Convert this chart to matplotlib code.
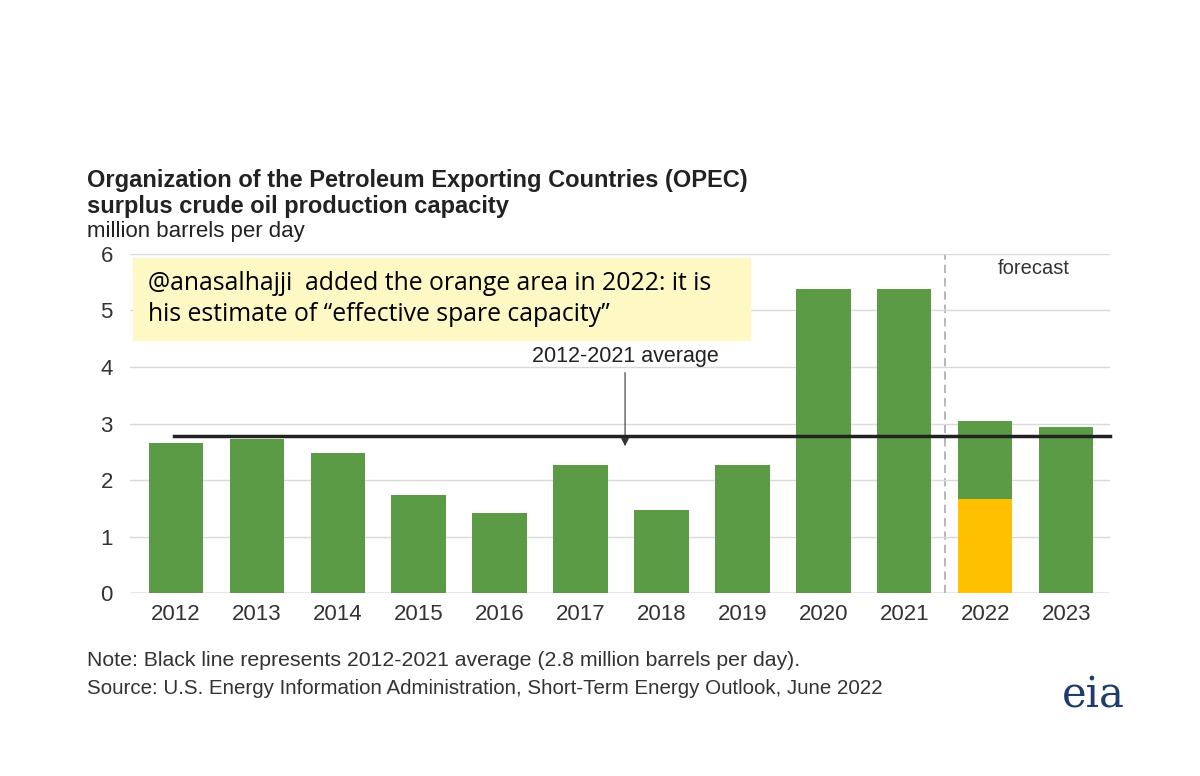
import numpy as np
import matplotlib.pyplot as plt
from matplotlib.patches import Rectangle

plt.rcParams['font.family'] = ['Liberation Sans', 'DejaVu Sans']

years = ['2012', '2013', '2014', '2015', '2016', '2017', '2018', '2019', '2020', '2021', '2022', '2023']
capacity = [2.65, 2.73, 2.48, 1.74, 1.42, 2.27, 1.47, 2.26, 5.38, 5.38, 3.05, 2.93]
effective_2022 = 1.67
average = 2.78

green = '#5b9b45'
orange = '#ffc000'

fig = plt.figure(figsize=(12, 7.76), dpi=100)
ax = fig.add_axes([0.108, 0.2358, 0.817, 0.4369])
x = np.arange(len(years))
ax.bar(x, capacity, width=0.67, color=green, zorder=2)
ax.bar(x[10], effective_2022, width=0.67, color=orange, zorder=3)
ax.plot([-0.02, 11.54], [average, average], color='#222222', lw=2.5, zorder=4, clip_on=False)
ax.axvline(9.5, color='#aaaaaa', ls=(0, (5, 3)), lw=1.2, zorder=1)

ax.set_xlim(-0.57, 11.54)
ax.set_ylim(0, 6)
ax.set_yticks(range(7))
ax.set_xticks(x)
ax.set_xticklabels(years)
ax.tick_params(length=0, labelsize=16, colors='#333333', pad=8)
ax.tick_params(axis='y', pad=12)
ax.grid(axis='y', color='#d9d9d9', lw=1, zorder=0)
for s in ax.spines.values():
    s.set_visible(False)
ax.axhline(0, color='#999999', lw=1, zorder=1)

ax.text(10.6, 5.75, 'forecast', ha='center', va='center', fontsize=14.5, color='#333333')
ax.annotate('2012-2021 average', xy=(5.55, 2.55), xytext=(5.55, 4.0),
            ha='center', va='bottom', fontsize=15.5, color='#222222',
            arrowprops=dict(arrowstyle='-|>', color='#333333', lw=0.8, mutation_scale=12))

fig.patches.append(Rectangle((133 / 1200, 1 - 340 / 776), 617 / 1200, 82 / 776,
                             transform=fig.transFigure, color='#fdf8c4', zorder=5))
fig.text(148 / 1200, 1 - 299 / 776,
         '@anasalhajji  added the orange area in 2022: it is\nhis estimate of \u201ceffective spare capacity\u201d',
         fontsize=17.8, family=['Open Sans', 'DejaVu Sans'], va='center', linespacing=1.35, zorder=6)

fig.text(87 / 1200, 1 - 180 / 776, 'Organization of the Petroleum Exporting Countries (OPEC)',
         fontsize=17, fontweight='bold', color='#222222', va='center')
fig.text(87 / 1200, 1 - 206 / 776, 'surplus crude oil production capacity',
         fontsize=17, fontweight='bold', color='#222222', va='center')
fig.text(87 / 1200, 1 - 232 / 776, 'million barrels per day', fontsize=16, color='#222222', va='center')
fig.text(87 / 1200, 1 - 661 / 776, 'Note: Black line represents 2012-2021 average (2.8 million barrels per day).',
         fontsize=15.3, color='#333333', va='center')
fig.text(87 / 1200, 1 - 689 / 776, 'Source: U.S. Energy Information Administration, Short-Term Energy Outlook, June 2022',
         fontsize=14.8, color='#333333', va='center')
fig.text(1093 / 1200, 1 - 695 / 776, 'eia', fontsize=30, color='#1f3d6b', ha='center', va='center',
         family=['DejaVu Serif'])

fig.savefig('out.png', dpi=100)
